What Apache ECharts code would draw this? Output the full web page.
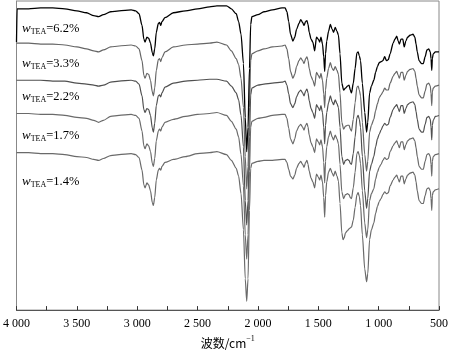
<!DOCTYPE html>
<html><head><meta charset="utf-8">
<script src="https://cdn.jsdelivr.net/npm/echarts@6/dist/echarts.min.js"></script>
<style>html,body{margin:0;padding:0;background:#fff}#c{width:451px;height:354px}</style>
</head><body><div id="c"></div>
<script>
// wavenumber ticks (cm^-1)
const xTicks = [4000, 3500, 3000, 2500, 2000, 1500, 1000, 500];
const seriesNames = ['6.2%', '3.3%', '2.2%', '1.7%', '1.4%'];
// values: relative absorbance depth (offset, a.u.; larger = lower on chart)
const s62 = [[4000,43],[3995,9],[3900,9],[3800,8],[3700,8],[3600,9],[3500,11],[3420,13],[3360,16],[3320,17],[3280,15],[3220,12],[3150,11],[3050,10],[3013,11],[2985,14],[2960,26],[2945,40],[2935,43],[2920,38],[2905,39],[2890,44],[2875,54],[2866,57],[2855,50],[2842,33],[2825,24],[2815,23],[2805,26],[2795,22],[2770,18],[2700,13],[2600,11],[2500,9],[2400,7],[2340,6],[2260,6],[2220,9],[2180,14],[2160,22],[2140,35],[2120,65],[2105,120],[2093,155],[2082,130],[2070,70],[2060,25],[2050,17],[2000,15],[1950,12],[1880,10],[1800,8],[1775,8],[1760,12],[1745,22],[1730,35],[1710,42],[1695,38],[1680,30],[1660,24],[1645,20],[1630,23],[1618,26],[1605,22],[1594,21],[1585,25],[1575,33],[1560,40],[1545,43],[1530,52],[1515,38],[1500,40],[1488,43],[1478,38],[1465,45],[1455,58],[1447,73],[1440,55],[1430,42],[1415,32],[1400,25],[1385,30],[1373,33],[1360,28],[1345,32],[1333,36],[1320,55],[1305,85],[1290,92],[1275,90],[1258,88],[1245,87],[1235,92],[1225,95],[1210,85],[1195,70],[1180,54],[1170,53],[1160,57],[1150,62],[1135,85],[1115,115],[1100,135],[1090,125],[1075,95],[1060,88],[1040,82],[1025,74],[1010,68],[995,64],[980,63],[965,62],[950,58],[935,62],[920,61],[905,55],[880,44],[865,40],[850,37],[838,42],[828,45],[815,40],[800,40],[788,48],[775,42],[760,38],[740,36],[715,35],[700,38],[690,45],[680,53],[665,62],[645,65],[630,65],[615,58],[600,51],[585,50],[572,53],[566,60],[560,72],[555,60],[548,55],[530,53],[500,53]];
const s33 = [[4000,44],[3900,44],[3800,45],[3700,45],[3600,46],[3500,48],[3420,50],[3360,52],[3320,53],[3280,51],[3220,48],[3150,47],[3050,46],[3013,47],[2985,50],[2960,62],[2945,77],[2935,80],[2920,75],[2905,76],[2890,82],[2875,94],[2866,98],[2855,90],[2842,72],[2825,61],[2815,60],[2805,63],[2795,59],[2770,53],[2700,48],[2600,46],[2500,45],[2400,44],[2340,43],[2260,46],[2220,52],[2180,60],[2160,66],[2140,80],[2120,110],[2105,160],[2093,193],[2082,170],[2070,110],[2060,62],[2050,55],[2000,52],[1950,50],[1880,48],[1800,47],[1775,46],[1760,50],[1745,60],[1730,73],[1710,80],[1695,76],[1680,68],[1660,62],[1645,59],[1630,62],[1618,65],[1605,60],[1594,58],[1585,62],[1575,70],[1560,78],[1545,82],[1530,88],[1515,74],[1500,77],[1488,80],[1478,75],[1465,82],[1455,96],[1447,110],[1440,92],[1430,80],[1415,70],[1400,64],[1385,70],[1373,72],[1360,68],[1345,72],[1333,76],[1320,95],[1305,125],[1290,132],[1275,129],[1258,128],[1245,128],[1235,132],[1225,134],[1210,122],[1195,105],[1180,89],[1170,88],[1160,92],[1150,98],[1135,125],[1115,158],[1100,175],[1090,165],[1075,135],[1060,128],[1040,122],[1025,113],[1010,106],[995,100],[980,97],[965,94],[950,90],[935,92],[920,92],[905,85],[880,78],[865,75],[850,73],[838,77],[828,80],[815,74],[800,74],[788,82],[775,77],[760,73],[740,71],[715,70],[700,73],[690,80],[680,88],[665,97],[645,100],[630,100],[615,93],[600,86],[585,85],[572,88],[566,96],[560,108],[555,94],[548,90],[530,88],[500,87]];
const s22 = [[4000,82],[3900,82],[3800,82],[3700,83],[3600,83],[3500,85],[3420,86],[3360,87],[3320,88],[3280,87],[3220,84],[3150,83],[3050,82],[3013,83],[2985,86],[2960,98],[2945,112],[2935,115],[2920,111],[2905,112],[2890,118],[2875,131],[2866,135],[2855,126],[2842,108],[2825,98],[2815,97],[2805,99],[2795,95],[2770,89],[2700,85],[2600,83],[2500,82],[2400,81],[2340,81],[2260,83],[2220,88],[2180,95],[2160,102],[2140,118],[2120,150],[2105,205],[2093,230],[2082,205],[2070,140],[2060,97],[2050,90],[2000,87],[1950,86],[1880,85],[1800,84],[1775,83],[1760,87],[1745,96],[1730,106],[1710,110],[1695,106],[1680,99],[1660,94],[1645,92],[1630,95],[1618,98],[1605,93],[1594,91],[1585,95],[1575,103],[1560,111],[1545,115],[1530,121],[1515,107],[1500,110],[1488,113],[1478,108],[1465,115],[1455,130],[1447,147],[1440,128],[1430,115],[1415,105],[1400,98],[1385,104],[1373,107],[1360,102],[1345,106],[1333,110],[1320,130],[1305,160],[1290,168],[1275,164],[1258,163],[1245,164],[1235,167],[1225,168],[1210,157],[1195,140],[1180,120],[1170,118],[1160,122],[1150,130],[1135,160],[1115,195],[1100,213],[1090,203],[1075,175],[1060,168],[1040,160],[1025,150],[1010,142],[995,137],[980,133],[965,129],[950,126],[935,128],[920,127],[905,120],[880,112],[865,109],[850,107],[838,111],[828,114],[815,108],[800,108],[788,116],[775,111],[760,107],[740,105],[715,104],[700,107],[690,114],[680,122],[665,132],[645,135],[630,135],[615,127],[600,120],[585,119],[572,122],[566,130],[560,143],[555,128],[548,123],[530,119],[500,118]];
const s17 = [[4000,116],[3900,116],[3800,117],[3700,117],[3600,118],[3500,120],[3420,121],[3360,123],[3320,125],[3280,123],[3220,119],[3150,118],[3050,117],[3013,118],[2985,121],[2960,134],[2945,149],[2935,152],[2920,147],[2905,149],[2890,155],[2875,167],[2866,170],[2855,162],[2842,144],[2825,134],[2815,132],[2805,134],[2795,130],[2770,125],[2700,122],[2600,119],[2500,117],[2400,116],[2340,115],[2260,118],[2220,124],[2180,132],[2160,140],[2140,158],[2120,190],[2105,240],[2093,265],[2082,240],[2070,175],[2060,130],[2050,124],[2000,121],[1950,120],[1880,118],[1800,117],[1775,117],[1760,121],[1745,131],[1730,142],[1710,147],[1695,142],[1680,134],[1660,129],[1645,127],[1630,130],[1618,133],[1605,128],[1594,126],[1585,130],[1575,138],[1560,146],[1545,150],[1530,156],[1515,142],[1500,145],[1488,148],[1478,143],[1465,150],[1455,166],[1447,187],[1440,165],[1430,150],[1415,140],[1400,134],[1385,140],[1373,143],[1360,138],[1345,142],[1333,147],[1320,168],[1305,196],[1290,203],[1275,199],[1258,198],[1245,199],[1235,202],[1225,203],[1210,192],[1195,176],[1180,157],[1170,155],[1160,159],[1150,167],[1135,195],[1115,228],[1100,243],[1090,235],[1075,205],[1060,198],[1040,193],[1025,183],[1010,176],[995,171],[980,168],[965,164],[950,161],[935,163],[920,162],[905,155],[880,149],[865,146],[850,144],[838,148],[828,151],[815,145],[800,145],[788,153],[775,148],[760,144],[740,142],[715,141],[700,144],[690,151],[680,160],[665,170],[645,173],[630,173],[615,165],[600,158],[585,157],[572,160],[566,168],[560,180],[555,165],[548,160],[530,158],[500,157]];
const s14 = [[4000,156],[3900,156],[3800,157],[3700,157],[3600,158],[3500,160],[3420,161],[3360,163],[3320,164],[3280,162],[3220,159],[3150,158],[3050,157],[3013,158],[2985,161],[2960,174],[2945,189],[2935,192],[2920,187],[2905,189],[2890,195],[2875,207],[2866,210],[2855,202],[2842,184],[2825,174],[2815,172],[2805,174],[2795,170],[2770,166],[2700,163],[2600,160],[2500,157],[2400,156],[2340,155],[2260,158],[2220,164],[2180,172],[2160,180],[2140,198],[2120,235],[2105,285],[2093,308],[2082,285],[2070,215],[2060,172],[2050,167],[2000,165],[1950,164],[1880,164],[1800,163],[1775,163],[1760,166],[1745,173],[1730,180],[1710,183],[1695,179],[1680,172],[1660,167],[1645,165],[1630,168],[1618,171],[1605,166],[1594,164],[1585,168],[1575,175],[1560,182],[1545,186],[1530,192],[1515,178],[1500,181],[1488,184],[1478,179],[1465,186],[1455,202],[1447,222],[1440,200],[1430,186],[1415,176],[1400,172],[1385,177],[1373,180],[1360,175],[1345,180],[1333,185],[1320,208],[1305,238],[1295,245],[1285,243],[1275,238],[1260,236],[1245,234],[1235,233],[1225,232],[1210,225],[1195,212],[1180,199],[1170,197],[1160,201],[1150,210],[1135,240],[1115,275],[1100,288],[1090,280],[1075,245],[1060,235],[1040,228],[1025,218],[1010,211],[995,206],[980,203],[965,199],[950,196],[935,198],[920,197],[905,190],[880,184],[865,181],[850,179],[838,183],[828,186],[815,180],[800,180],[788,188],[775,183],[760,179],[740,177],[715,176],[700,179],[690,186],[680,195],[665,205],[645,208],[630,208],[615,200],[600,193],[585,192],[572,195],[566,203],[560,215],[555,200],[548,196],[530,194],[500,193]];
const allData = [s62, s33, s22, s17, s14];
const colors = ['#000000', '#666666', '#505050', '#6a6a6a', '#6a6a6a'];
const labelTops = [22, 57, 90, 129, 175];

const serif = '"Liberation Serif","Times New Roman",serif';
const chart = echarts.init(document.getElementById('c'), null, {renderer: 'canvas'});
const legendRich = {
  i: {fontFamily: serif, fontStyle: 'italic', fontSize: 13, color: '#000'},
  s: {fontFamily: serif, fontSize: 8, color: '#000', padding: [6, 0, 0, 0]},
  n: {fontFamily: serif, fontSize: 12.5, color: '#000'}
};
chart.setOption({
  animation: false,
  grid: {left: 14, right: 8, top: 1, bottom: 37, show: true, borderColor: '#888', borderWidth: 1},
  xAxis: {
    type: 'value', inverse: true, min: 500, max: 4000, interval: 500,
    axisLine: {show: true, lineStyle: {color: '#555', width: 1}},
    axisTick: {show: true, inside: true, length: 4, lineStyle: {color: '#333'}},
    minorTick: {show: true, splitNumber: 2, length: 4, lineStyle: {color: '#333'}},
    splitLine: {show: false},
    axisLabel: {
      fontFamily: serif, fontSize: 12, color: '#000', margin: 8,
      formatter: v => v >= 1000 ? Math.floor(v / 1000) + ' ' + String(v % 1000).padStart(3, '0') : String(v)
    },
    name: '波数/cm{sup|−1}', nameLocation: 'middle', nameGap: 24,
    nameTextStyle: {fontFamily: '"Noto Sans CJK SC",' + serif, fontSize: 12, color: '#000',
      rich: {sup: {fontFamily: serif, fontSize: 8, color: '#000', padding: [0, 0, 8, 0]}}}
  },
  yAxis: {
    type: 'value', inverse: true, min: 1, max: 317,
    axisLine: {show: true, lineStyle: {color: '#888'}},
    axisTick: {show: false}, axisLabel: {show: false}, splitLine: {show: false}
  },
  graphic: seriesNames.map((n, k) => ({
    type: 'text', left: 22, top: labelTops[k],
    style: {text: '{i|w}{s|TEA}{n|=' + n + '}', rich: legendRich}
  })),
  series: allData.map((d, k) => ({
    type: 'line', name: seriesNames[k], data: d, showSymbol: false,
    smooth: 0.25, smoothMonotone: 'x',
    lineStyle: {color: colors[k], width: k === 0 ? 1.3 : 1.2},
    z: 10 - k
  }))
});
</script></body></html>
